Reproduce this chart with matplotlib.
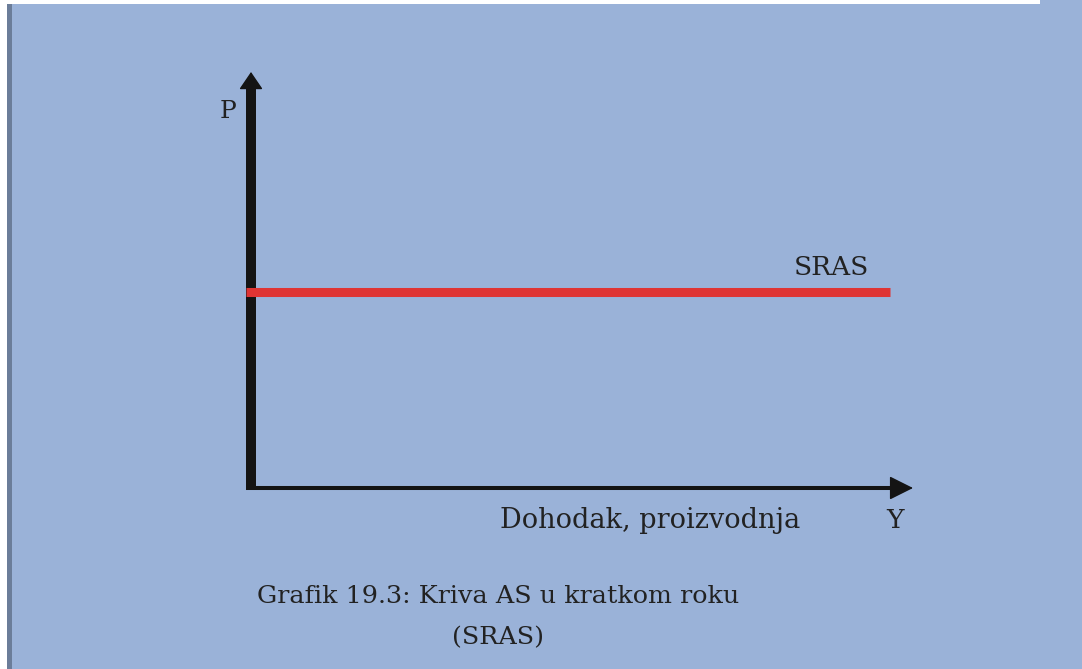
import matplotlib
matplotlib.use("Agg")
import matplotlib.pyplot as plt
from matplotlib.patches import Rectangle

# ---- data ----
output_range = [0.0, 10.0]      # Y (income, output) span of the SRAS curve
price_level = [4.71, 4.71]      # P level of the horizontal SRAS curve
axis_label_y = "P"
axis_label_x = "Y"
curve_label = "SRAS"
x_title = "Dohodak, proizvodnja"
caption = ["Grafik 19.3: Kriva AS u kratkom roku", "(SRAS)"]

W, H = 1082, 669
BG = "#9AB2D8"
INK = "#141414"
RED = "#DF3434"
FONT = "DejaVu Serif"

fig = plt.figure(figsize=(W / 100, H / 100), dpi=100)
fig.patch.set_facecolor(BG)

# frame decorations (left white + dark strip, top white strip)
fig.add_artist(Rectangle((0, 0), 7 / W, 1, transform=fig.transFigure, color="white", lw=0))
fig.add_artist(Rectangle((7 / W, 0), 5 / W, 1, transform=fig.transFigure, color="#6B7D99", lw=0))
fig.add_artist(Rectangle((0, 1 - 4 / H), 1040 / W, 4 / H, transform=fig.transFigure, color="white", lw=0))

# axes: origin at pixel (251, 488); x=10 at 890 px; y=10 at 72 px
ax = fig.add_axes([251 / W, (H - 488) / H, (890 - 251) / W, (488 - 72) / H])
ax.set_xlim(0, 10)
ax.set_ylim(0, 10)
ax.axis("off")
ax.patch.set_alpha(0)

# y axis (thick) with arrow head
ax.plot([0, 0], [-0.05, 9.62], color=INK, lw=7.2, solid_capstyle="butt", clip_on=False)
ax.annotate("", xy=(0, 10), xytext=(0, 9.4),
            arrowprops=dict(arrowstyle="-|>,head_length=1.1,head_width=0.75",
                            color=INK, lw=1, shrinkA=0, shrinkB=0, mutation_scale=10),
            annotation_clip=False)

# x axis with arrow head
ax.plot([-0.08, 10.05], [0, 0], color=INK, lw=2.9, solid_capstyle="butt", clip_on=False)
ax.annotate("", xy=(10.36, 0), xytext=(9.9, 0),
            arrowprops=dict(arrowstyle="-|>,head_length=1.5,head_width=0.75",
                            color=INK, lw=1, shrinkA=0, shrinkB=0, mutation_scale=10),
            annotation_clip=False)

# SRAS curve
ax.plot([output_range[0] - 0.08, output_range[1]], price_level, color=RED, lw=6.5,
        solid_capstyle="butt", clip_on=False, zorder=3)

tk = dict(family=FONT, color="#222222", ha="center", va="center", clip_on=False)
ax.text(-0.36, 9.04, axis_label_y, fontsize=18, **tk)
ax.text(9.08, 5.31, curve_label, fontsize=19, **tk)
ax.text(6.24, -0.77, x_title, fontsize=19.5, **tk)
ax.text(10.08, -0.77, axis_label_x, fontsize=19, **tk)
ax.text(3.87, -2.62, caption[0], fontsize=18.3, **tk)
ax.text(3.87, -3.61, caption[1], fontsize=18.3, **tk)

fig.savefig("out.png", dpi=100, facecolor=BG)
